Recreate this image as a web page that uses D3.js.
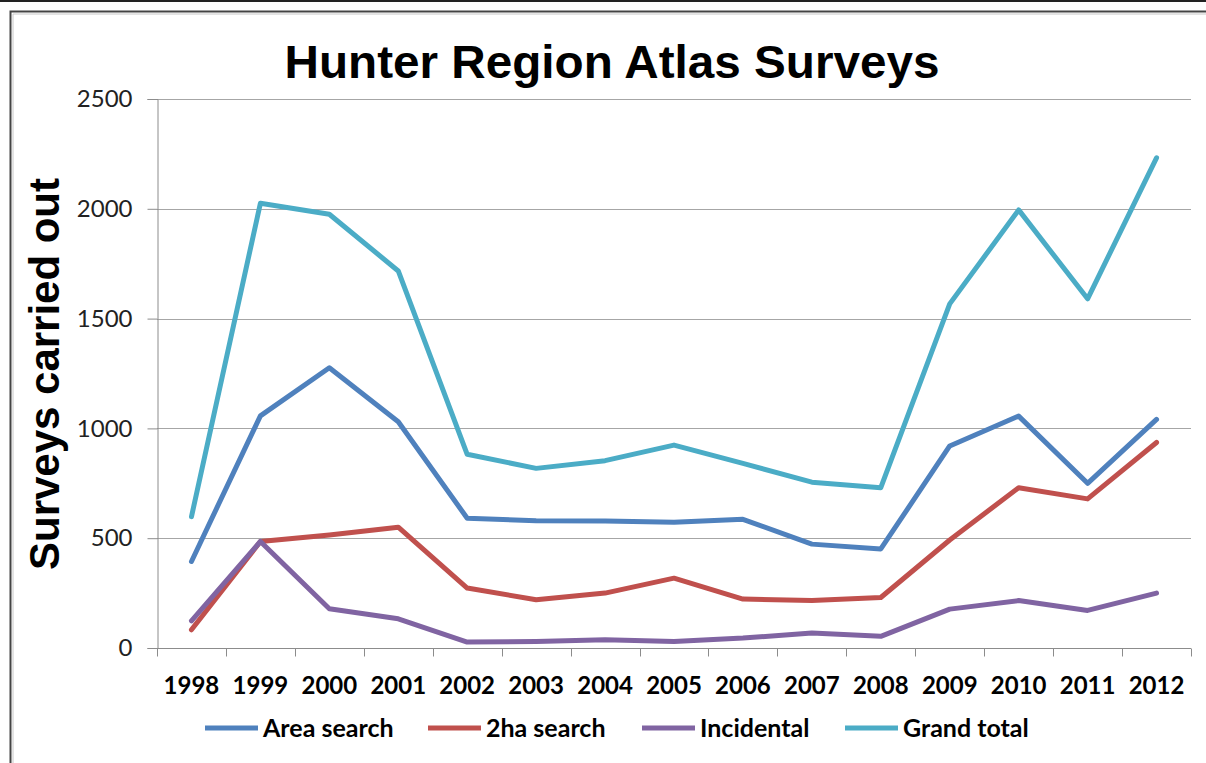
<!DOCTYPE html>
<html>
<head>
<meta charset="utf-8">
<script src="https://cdn.jsdelivr.net/npm/d3@7"></script>
<style>
  body { margin: 0; background: #fff; }
  svg { display: block; }
</style>
</head>
<body>
<div id="chart"></div>
<script>
const years = ['1998', '1999', '2000', '2001', '2002', '2003', '2004', '2005',
  '2006', '2007', '2008', '2009', '2010', '2011', '2012'];
const areaSearch = [394, 1057, 1276, 1030, 591, 580, 578, 573, 586, 473, 451, 920, 1056, 750, 1041];
const twoHaSearch = [83, 485, 515, 550, 273, 220, 250, 318, 223, 216, 230, 492, 730, 679, 936];
const incidental = [124, 485, 179, 133, 27, 30, 38, 30, 45, 68, 53, 177, 216, 171, 250];
const grandTotal = [598, 2025, 1975, 1717, 882, 818, 853, 924, 841, 755, 730, 1567, 1995, 1590, 2232];
const yTicks = [0, 500, 1000, 1500, 2000, 2500];

const seriesNames = ['Area search', '2ha search', 'Incidental', 'Grand total'];
const seriesColors = ['#4f81bd', '#c0504d', '#8064a2', '#4bacc6'];

const series = [areaSearch, twoHaSearch, incidental, grandTotal].map((values, i) => {
  return { name: seriesNames[i], color: seriesColors[i], values: values };
});

const width = 1206, height = 763;
const margin = { top: 99, right: 15, bottom: 115, left: 157 };

const svg = d3.select('#chart').append('svg')
  .attr('width', width)
  .attr('height', height);

// Frame round the picture
svg.append('line')
  .attr('x1', 0).attr('x2', width)
  .attr('y1', 1).attr('y2', 1)
  .attr('stroke', '#222')
  .attr('stroke-width', 2);
svg.append('path')
  .attr('d', `M10.5,${height} V11.5 H${width}`)
  .attr('fill', 'none')
  .attr('stroke', '#444')
  .attr('stroke-width', 2);
svg.append('path')
  .attr('d', `M13,${height} V14 H${width}`)
  .attr('fill', 'none')
  .attr('stroke', '#c8c8c8')
  .attr('stroke-width', 1);

const x = d3.scaleBand()
  .domain(years)
  .range([margin.left, width - margin.right]);

const y = d3.scaleLinear()
  .domain([0, 2500])
  .range([height - margin.bottom, margin.top]);

// Gridlines
svg.append('g')
  .selectAll('line')
  .data(yTicks.filter(d => d > 0))
  .join('line')
  .attr('x1', margin.left)
  .attr('x2', width - margin.right)
  .attr('y1', d => Math.round(y(d)) + 0.5)
  .attr('y2', d => Math.round(y(d)) + 0.5)
  .attr('stroke', '#a6a6a6')
  .attr('stroke-width', 1);

// Y axis
const yAxis = svg.append('g')
  .attr('transform', `translate(${margin.left + 0.5},0)`)
  .call(d3.axisLeft(y).tickValues(yTicks).tickSize(10).tickPadding(15).tickFormat(d3.format('d')));
yAxis.selectAll('line, path').attr('stroke', '#8c8c8c');
yAxis.selectAll('text')
  .attr('font-family', 'Lato, sans-serif')
  .attr('font-size', 24)
  .attr('fill', '#222');

// X axis, ticks on band edges
const xAxisG = svg.append('g')
  .attr('transform', `translate(0,${Math.round(y(0)) + 0.5})`);
xAxisG.append('line')
  .attr('x1', margin.left)
  .attr('x2', width - margin.right)
  .attr('stroke', '#8c8c8c');
xAxisG.selectAll('line.tick')
  .data(years.concat(['end']))
  .join('line')
  .attr('class', 'tick')
  .attr('x1', (d, i) => Math.round(margin.left + i * x.step()) + 0.5)
  .attr('x2', (d, i) => Math.round(margin.left + i * x.step()) + 0.5)
  .attr('y1', 0)
  .attr('y2', 8)
  .attr('stroke', '#8c8c8c');
xAxisG.selectAll('text')
  .data(years)
  .join('text')
  .attr('x', d => x(d) + x.bandwidth() / 2)
  .attr('y', 45)
  .attr('text-anchor', 'middle')
  .attr('font-family', 'Lato, sans-serif')
  .attr('font-weight', 'bold')
  .attr('font-size', 24)
  .attr('fill', '#000')
  .text(d => d);

// Lines
const line = d3.line()
  .x((d, i) => x(years[i]) + x.bandwidth() / 2)
  .y(d => y(d));

svg.append('g')
  .selectAll('path')
  .data(series)
  .join('path')
  .attr('d', d => line(d.values))
  .attr('fill', 'none')
  .attr('stroke', d => d.color)
  .attr('stroke-width', 5)
  .attr('stroke-linejoin', 'round')
  .attr('stroke-linecap', 'round');

// Title
svg.append('text')
  .attr('x', 612)
  .attr('y', 78)
  .attr('text-anchor', 'middle')
  .attr('font-family', '"Liberation Sans", Arial, sans-serif')
  .attr('font-weight', 'bold')
  .attr('font-size', 47)
  .attr('textLength', 655)
  .attr('lengthAdjust', 'spacingAndGlyphs')
  .text('Hunter Region Atlas Surveys');

// Y axis title
svg.append('text')
  .attr('transform', 'translate(59,374) rotate(-90)')
  .attr('text-anchor', 'middle')
  .attr('font-family', '"Liberation Sans", Arial, sans-serif')
  .attr('font-weight', 'bold')
  .attr('font-size', 42)
  .attr('textLength', 392)
  .attr('lengthAdjust', 'spacingAndGlyphs')
  .text('Surveys carried out');

// Legend
const legendX = [205, 428, 642, 845];
const legend = svg.append('g')
  .selectAll('g')
  .data(series)
  .join('g')
  .attr('transform', (d, i) => `translate(${legendX[i]},728)`);
legend.append('line')
  .attr('x1', 0)
  .attr('x2', 53)
  .attr('stroke', d => d.color)
  .attr('stroke-width', 5);
legend.append('text')
  .attr('x', 58)
  .attr('y', 9)
  .attr('font-family', 'Lato, sans-serif')
  .attr('font-weight', 'bold')
  .attr('font-size', 25)
  .attr('fill', '#000')
  .text(d => d.name);
</script>
</body>
</html>
